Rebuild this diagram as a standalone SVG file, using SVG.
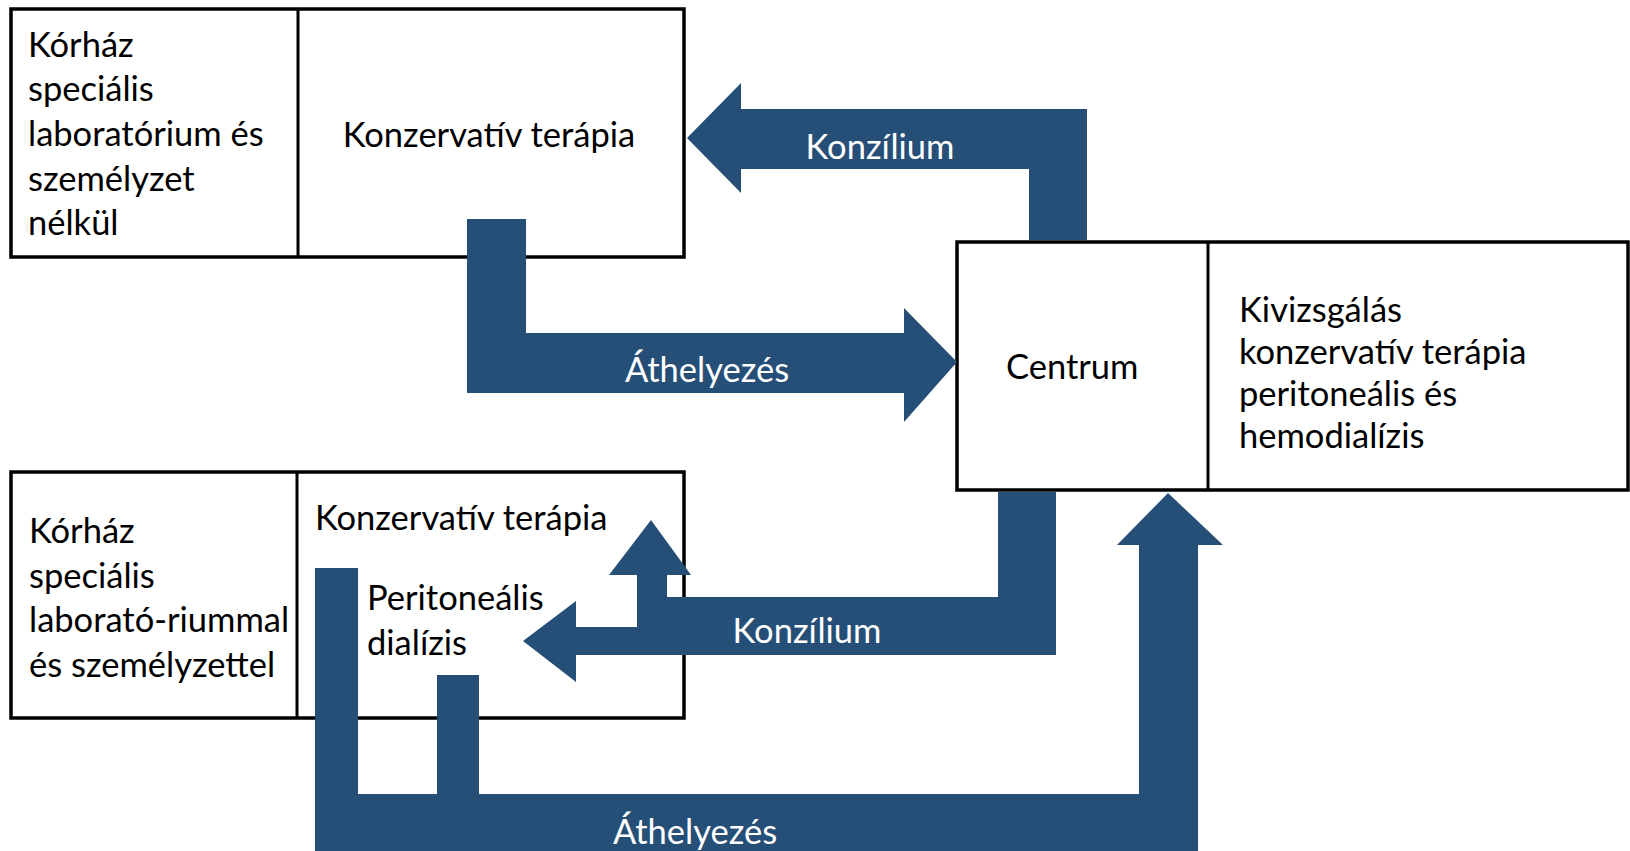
<svg xmlns="http://www.w3.org/2000/svg" width="1630" height="851" viewBox="0 0 1630 851">
<style>
.box{fill:#fff;stroke:#000;stroke-width:3.5}
.div{stroke:#000;stroke-width:3}
.arr{fill:#264F78}
text{font-family:Lato,"Open Sans","Liberation Sans",sans-serif;font-size:34.5px}
.t{fill:#000}
.w{fill:#fff;text-anchor:middle}
</style>
<rect width="1630" height="851" fill="#fff"/>
<g id="node-top">
<rect class="box" x="11" y="9" width="673" height="248"/>
<line class="div" x1="298" y1="9" x2="298" y2="257"/>
<text class="t" x="28" y="56.5">Kórház</text>
<text class="t" x="28" y="101">speciális</text>
<text class="t" x="28" y="145.5">laboratórium és</text>
<text class="t" x="28" y="190.5">személyzet</text>
<text class="t" x="28" y="235">nélkül</text>
<text class="t" x="489" y="146.5" text-anchor="middle">Konzervatív terápia</text>
</g>
<g id="node-centrum">
<rect class="box" x="957" y="242" width="671" height="248"/>
<line class="div" x1="1208" y1="242" x2="1208" y2="490"/>
<text class="t" x="1006" y="379">Centrum</text>
<text class="t" x="1239" y="322">Kivizsgálás</text>
<text class="t" x="1239" y="364">konzervatív terápia</text>
<text class="t" x="1239" y="405.5">peritoneális és</text>
<text class="t" x="1239" y="447.5">hemodialízis</text>
</g>
<g id="node-bottom">
<rect class="box" x="11" y="472" width="673" height="246"/>
<line class="div" x1="297" y1="472" x2="297" y2="718"/>
<text class="t" x="29" y="543">Kórház</text>
<text class="t" x="29" y="587.5">speciális</text>
<text class="t" x="29" y="632">laborató-riummal</text>
<text class="t" x="29" y="677">és személyzettel</text>
<text class="t" x="315" y="529.5">Konzervatív terápia</text>
<text class="t" x="367" y="609.5">Peritoneális</text>
<text class="t" x="367" y="654.5">dialízis</text>
</g>
<g id="connectors">
<polygon class="arr" points="1087,240 1029,240 1029,169 741,169 741,193 687,138 741,83 741,109 1087,109"/>
<text class="w" x="880" y="158.5">Konzílium</text>
<polygon class="arr" points="467,219 526,219 526,333 904,333 904,308 957,362 904,422 904,393 467,393"/>
<text class="w" x="707" y="381.5">Áthelyezés</text>
<polygon class="arr" points="998,492 1056,492 1056,655 576,655 576,682 523,641 576,601 576,627 637,627 637,575 609,575 651,520 691,575 667,575 667,597 998,597"/>
<text class="w" x="807" y="643">Konzílium</text>
<polygon class="arr" points="315,568 358,568 358,794 437,794 437,675 479,675 479,794 1139,794 1139,545 1117,545 1168,493 1223,545 1198,545 1198,860 315,860"/>
<text class="w" x="695" y="843.5">Áthelyezés</text>
</g>
</svg>
